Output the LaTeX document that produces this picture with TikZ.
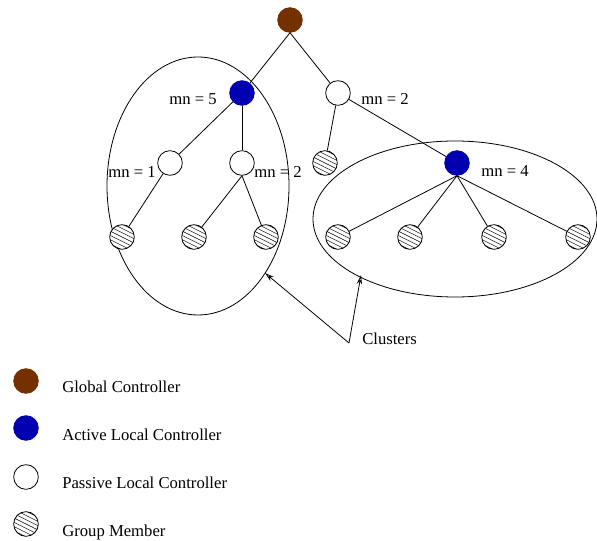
\documentclass[tikz,border=0pt]{standalone}
\usepackage{fontspec}
\setmainfont{Liberation Serif}
\usepackage{tikz}
\usetikzlibrary{arrows.meta,calc}
\definecolor{globalbrown}{RGB}{117,48,0}
\definecolor{activeblue}{RGB}{0,0,176}

\begin{document}
\begin{tikzpicture}[
    x=0.75pt, y=-0.75pt,
    ctrl/.style={circle, draw=black, line width=0.6pt, minimum size=18.5pt, inner sep=0pt},
    global/.style={ctrl, draw=globalbrown, fill=globalbrown},
    active/.style={ctrl, draw=activeblue, fill=activeblue},
    passive/.style={ctrl, fill=white},
    member/.style={ctrl, fill=white, path picture={
        \foreach \k in {-7,...,7} {
            \draw[line width=0.35pt] ($(path picture bounding box.center)+(-16pt,\k*3.2pt+8pt)$) -- ++(32pt,-16pt);
        }}},
    label/.style={font=\fontsize{12.5}{15}\selectfont, anchor=base, inner sep=0pt},
    link/.style={line width=0.6pt},
    pointer/.style={line width=0.6pt, -{Stealth[open, length=7pt, width=4pt]}}
]
    \useasboundingbox (0,0) rectangle (597,541);

    % Clusters
    \draw[line width=0.6pt] (198,186) ellipse [x radius=91, y radius=129];
    \draw[line width=0.6pt] (455,219) ellipse [x radius=142, y radius=78];

    % Tree
    \node[global] (root) at (290,20) {};
    \node[active] (lc5) at (242,93) {};
    \node[passive] (pc2) at (338,93) {};
    \node[passive] (pc1) at (170,163) {};
    \node[passive] (pc2b) at (242,163) {};
    \node[member] (gm0) at (325,163) {};
    \node[active] (lc4) at (457,163) {};

    \node[member] (gm1) at (122,237) {};
    \node[member] (gm2) at (194,237) {};
    \node[member] (gm3) at (266,237) {};
    \node[member] (gm4) at (338,237) {};
    \node[member] (gm5) at (410,237) {};
    \node[member] (gm6) at (494,237) {};
    \node[member] (gm7) at (578,237) {};

    % Member counts
    \node[label] (mn_lc5) at (193,105) {mn = 5};
    \node[label] (mn_pc2) at (385,105) {mn = 2};
    \node[label] (mn_pc1) at (132,178) {mn = 1};
    \node[label] (mn_pc2b) at (278,178) {mn = 2};
    \node[label] (mn_lc4) at (505,177) {mn = 4};

    % Links
    \draw[link] (root.south) -- (lc5);
    \draw[link] (root.south) -- (pc2);
    \draw[link] (lc5) -- (pc1);
    \draw[link] (lc5) -- (pc2b);
    \draw[link] (pc2) -- (gm0);
    \draw[link] (pc2) -- (lc4);
    \draw[link] (pc1) -- (gm1);
    \foreach \g in {gm2, gm3} {
        \draw[link] (pc2b.south) -- (\g);
    }
    \foreach \g in {gm4, gm5, gm6, gm7} {
        \draw[link] (lc4.south) -- (\g);
    }

    % Pointers to the clusters
    \coordinate (tip_l) at (265,273);
    \coordinate (tip_r) at (361,275);
    \node[label, anchor=base west] (clusters) at (362,345) {Clusters};
    \coordinate (apex) at (349,343);
    \draw[pointer] (apex) -- (tip_l);
    \draw[pointer] (apex) -- (tip_r);

    % Legend
    \node[global] (key_gc) at (26,381) {};
    \node[active] (key_alc) at (26,428) {};
    \node[passive] (key_plc) at (26,477) {};
    \node[member] (key_gm) at (26,524) {};

    \node[label, anchor=base west] (txt_gc) at (62,392.5) {Global Controller};
    \node[label, anchor=base west] (txt_alc) at (62,440.5) {Active Local Controller};
    \node[label, anchor=base west] (txt_plc) at (62,488.5) {Passive Local Controller};
    \node[label, anchor=base west] (txt_gm) at (62,536.5) {Group Member};

\end{tikzpicture}
\end{document}
